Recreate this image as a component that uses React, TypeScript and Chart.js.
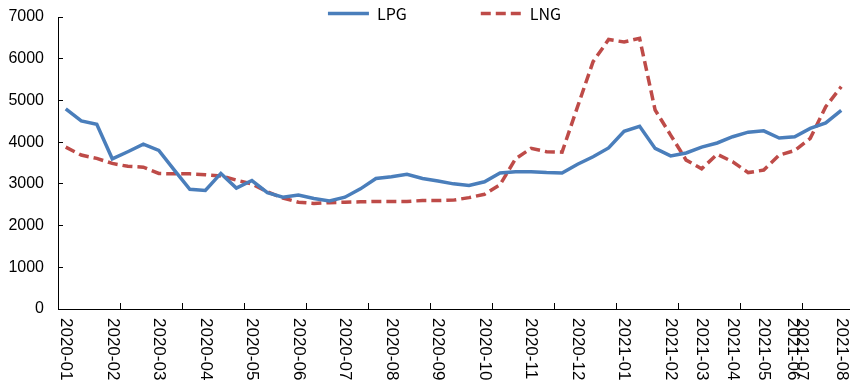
import React, { useEffect, useRef } from 'react';
import { Chart, registerables } from 'chart.js';

Chart.register(...registerables);

// Data (one value per period)
const lpg = [
  4800, 4510, 4430, 3600, 3770, 3950, 3800, 3330, 2870, 2840,
  3250, 2900, 3080, 2790, 2680, 2730, 2650, 2590, 2680, 2880,
  3130, 3170, 3230, 3130, 3070, 3000, 2960, 3050, 3260, 3290,
  3290, 3270, 3260, 3470, 3650, 3860, 4260, 4380, 3850, 3670,
  3740, 3880, 3980, 4130, 4240, 4270, 4100, 4130, 4330, 4460,
  4760,
];
const lng = [
  3880, 3690, 3610, 3490, 3420, 3400, 3250, 3240, 3240, 3220,
  3190, 3090, 3000, 2810, 2660, 2560, 2530, 2550, 2560, 2570,
  2580, 2580, 2580, 2600, 2600, 2610, 2670, 2750, 2980, 3600,
  3850, 3770, 3760, 4850, 5930, 6460, 6400, 6490, 4770, 4170,
  3570, 3360, 3710, 3530, 3270, 3330, 3690, 3800, 4090, 4850,
  5330,
];

// Tick labels on the x axis and the period index each label sits on
const xTickLabels = [
  '2020-01', '2020-02', '2020-03', '2020-04', '2020-05', '2020-06', '2020-07',
  '2020-08', '2020-09', '2020-10', '2020-11', '2020-12', '2021-01', '2021-02',
  '2021-03', '2021-04', '2021-05', '2021-06', '2021-07', '2021-08',
];
const xTickLabelAt = [0, 3, 6, 9, 12, 15, 18, 21, 24, 27, 30, 33, 36, 39, 41, 43, 45, 46.9, 47.45, 50];
// Tick marks on the x axis (between periods)
const xTickMarkAt = [3.5, 7.5, 11.5, 15.5, 19.5, 23.5, 27.5, 31.5, 35.5, 39.5, 43.5, 47.5];
const yMin = 0;
const yMax = 7000;
const yStep = 1000;

const LEGEND_CENTER_Y = 13.5;
const LEGEND_SHIFT_X = 20;

const legendPlacement = {
  id: 'legendPlacement',
  beforeLayout(chart: any) {
    const lg = chart.legend;
    if (lg && !lg.__patched) {
      const fit = lg.fit.bind(lg);
      lg.fit = function () {
        fit();
        this.height = 0;
      };
      lg.__patched = true;
    }
  },
  afterLayout(chart: any) {
    const lg = chart.legend;
    if (!lg) return;
    const pad = lg.options.labels.padding;
    const size = lg.options.labels.font.size;
    lg.top = LEGEND_CENTER_Y - size / 2 - pad;
    lg.bottom = LEGEND_CENTER_Y + size;
    lg.left += LEGEND_SHIFT_X;
    lg.right += LEGEND_SHIFT_X;
  },
};

const downwardLabels = {
  id: 'downwardLabels',
  beforeDraw(chart: any) {
    const s = chart.scales.xl;
    if (!s || !s.getLabelItems) return;
    const items = s.getLabelItems();
    items.forEach((it: any) => {
      if (it.options) it.options.textAlign = 'left';
      else it.textAlign = 'left';
    });
  },
};

export default function App() {
  const ref = useRef<HTMLCanvasElement>(null);

  useEffect(() => {
    document.body.style.margin = '0';
    const canvas = ref.current!;
    const axisFont = { family: "'Liberation Sans', Arial, sans-serif", size: 16 };
    const chart = new Chart(canvas, {
      type: 'line',
      data: {
        datasets: [
          {
            label: 'LPG',
            data: lpg.map((y, i) => ({ x: i, y })),
            borderColor: '#4A7EBB',
            backgroundColor: '#4A7EBB',
            borderWidth: 3.5,
            pointRadius: 0,
            tension: 0,
            fill: false,
            xAxisID: 'x',
            yAxisID: 'y',
          },
          {
            label: 'LNG',
            data: lng.map((y, i) => ({ x: i, y })),
            borderColor: '#BE4B48',
            backgroundColor: '#BE4B48',
            borderWidth: 3.5,
            borderDash: [10, 5],
            pointRadius: 0,
            tension: 0,
            fill: false,
            xAxisID: 'x',
            yAxisID: 'y',
          },
        ],
      },
      options: {
        animation: false,
        responsive: false,
        events: [],
        layout: { padding: { top: 17, right: 7, left: 0, bottom: 0 } },
        plugins: {
          tooltip: { enabled: false },
          legend: {
            position: 'top',
            labels: {
              usePointStyle: true,
              pointStyle: 'line',
              pointStyleWidth: 41,
              padding: 74,
              color: '#000',
              font: { family: "'Noto Sans CJK SC', 'Liberation Sans', sans-serif", size: 16 },
              generateLabels: (c: any) => {
                const items = Chart.defaults.plugins.legend.labels.generateLabels(c);
                items.forEach((it: any) => {
                  const ds: any = c.data.datasets[it.datasetIndex];
                  it.lineDash = ds.borderDash || [];
                  it.lineWidth = ds.borderWidth;
                  it.strokeStyle = ds.borderColor;
                  it.fillStyle = ds.borderColor;
                  it.pointStyle = 'line';
                });
                return items;
              },
            },
          },
        },
        scales: {
          x: {
            type: 'linear',
            position: 'bottom',
            weight: 0,
            min: -0.5,
            max: lpg.length - 0.5,
            afterBuildTicks: (s: any) => {
              s.ticks = xTickMarkAt.map((v) => ({ value: v }));
            },
            afterFit: (s: any) => {
              s.height = 0;
            },
            ticks: { display: false },
            grid: { drawOnChartArea: false, drawTicks: true, tickLength: -6, color: '#000', lineWidth: 1 },
            border: { display: true, color: '#000', width: 1 },
          },
          xl: {
            type: 'linear',
            position: 'bottom',
            weight: 1,
            min: -0.5,
            max: lpg.length - 0.5,
            afterBuildTicks: (s: any) => {
              s.ticks = xTickLabelAt.map((v) => ({ value: v }));
            },
            afterCalculateLabelRotation: (s: any) => {
              s.labelRotation = -90;
            },
            afterFit: (s: any) => {
              s.height = 81;
              s.paddingLeft = 0;
              s.paddingRight = 0;
            },
            ticks: {
              autoSkip: false,
              padding: 9,
              color: '#000',
              font: { family: "'Liberation Sans', Arial, sans-serif", size: 17 },
              callback: (_v: any, i: number) => xTickLabels[i],
            },
            grid: { display: false, drawTicks: false },
            border: { display: false },
          },
          y: {
            type: 'linear',
            position: 'left',
            min: yMin,
            max: yMax,
            afterFit: (s: any) => {
              s.width = 58;
              s.paddingTop = 0;
              s.paddingBottom = 0;
            },
            ticks: {
              stepSize: yStep,
              padding: 19,
              color: '#000',
              font: axisFont,
              callback: (v: any) => String(v),
            },
            grid: { drawOnChartArea: false, drawTicks: true, tickLength: -5, color: '#000', lineWidth: 1 },
            border: { display: true, color: '#000', width: 1 },
          },
        },
      },
      plugins: [legendPlacement, downwardLabels],
    } as any);
    return () => chart.destroy();
  }, []);

  return (
    <div style={{ width: 856, height: 390 }}>
      <canvas ref={ref} width={856} height={390} style={{ display: 'block' }} />
    </div>
  );
}
